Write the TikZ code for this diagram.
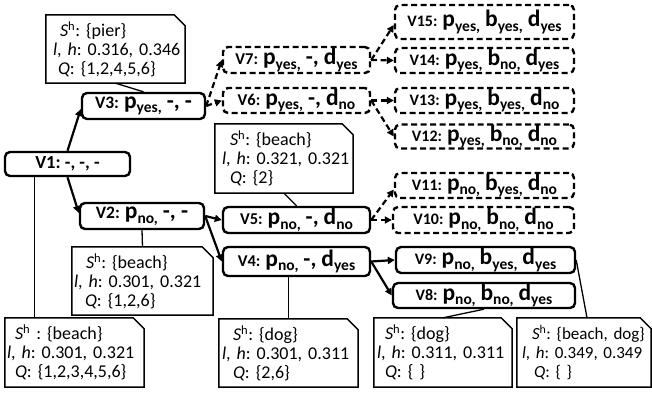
\documentclass[tikz,border=0pt]{standalone}
\usepackage{fontspec}
\setmainfont{Carlito}[ItalicFont={Carlito Italic}, BoldFont={Carlito Bold}, BoldItalicFont={Carlito Bold Italic}]
\usetikzlibrary{arrows.meta}
\frenchspacing
\newcommand\Vpre[2][16]{{\fontsize{#1}{16}\selectfont #2}}
\newcommand\Vmain[2]{{\fontsize{23.5}{22}\selectfont #1}\raisebox{-4.5pt}{\fontsize{15.5}{16}\selectfont #2}}
\newcommand\Vdsh[1]{{\fontsize{23}{20}\selectfont #1}}
\newcommand\Sh{\textit{S}\textsuperscript{h}}
\newcommand\Calltext[6]{\mbox{\hspace*{#1}\Sh: #2}\\\mbox{\hspace*{#3}\textit{l}, \textit{h}: #4}\\\mbox{\hspace*{#5}\textit{Q}: #6}}
\newcommand\Cutbox[1]{\draw[cbox] (#1.north west) -- ([xshift=-11pt]#1.north east) -- ([yshift=-11pt]#1.north east) -- (#1.south east) -- (#1.south west) -- cycle;}
\tikzset{
  sbox/.style={draw, rounded corners=5pt, line width=2.4pt, inner sep=0pt, font=\bfseries\fontsize{22}{22}\selectfont\frenchspacing},
  dbox/.style={sbox, dash pattern=on 6pt off 3.5pt},
  callout/.style={inner xsep=2pt, inner ysep=0pt, align=left, font=\fontsize{18}{19}\selectfont\frenchspacing},
  cbox/.style={line width=1.5pt, line join=miter},
  cline/.style={line width=1.3pt},
  arr/.style={line width=2.2pt, -{Triangle[length=7pt,width=7pt]}},
  darr/.style={arr, dash pattern=on 6pt off 3.5pt},
}
\begin{document}
\begin{tikzpicture}[x=1pt,y=-1pt]
\useasboundingbox (0,0) rectangle (652,393);
% tree nodes
\node[sbox, minimum width=125pt, minimum height=24pt] (v1) at (67.5,164) {{\fontsize{18.5}{19}\selectfont V1: -, -, -}};
\node[sbox, minimum width=123pt, minimum height=26pt] (v3) at (143.5,106) {\Vpre[17.5]{V3:} \Vmain{p}{yes,} \Vdsh{-, -}};
\node[sbox, minimum width=124pt, minimum height=26pt] (v2) at (142,216) {\Vpre[17.5]{V2:} \Vmain{p}{no,} \Vdsh{-, -}};
\node[dbox, minimum width=147pt, minimum height=26pt] (v7) at (296.5,60) {\Vpre[16.5]{V7:} \Vmain{p}{yes,} \Vdsh{-,} \Vmain{d}{yes}};
\node[dbox, minimum width=147pt, minimum height=25pt] (v6) at (296.5,100.5) {\Vpre[16.5]{V6:} \Vmain{p}{yes,} \Vdsh{-,} \Vmain{d}{no}};
\node[sbox, minimum width=147pt, minimum height=26pt] (v5) at (296.5,220) {\Vpre[16.5]{V5:} \Vmain{p}{no,} \Vdsh{-,} \Vmain{d}{no}};
\node[sbox, minimum width=147pt, minimum height=29pt] (v4) at (296.5,261.5) {\Vpre[16.5]{V4:} \Vmain{p}{no,} \Vdsh{-,} \Vmain{d}{yes}};
\node[dbox, minimum width=179pt, minimum height=34pt] (v15) at (484.5,22) {\Vpre{V15:} \Vmain{p}{yes,} \Vmain{b}{yes,} \Vmain{d}{yes}};
\node[dbox, minimum width=179pt, minimum height=25pt] (v14) at (484.5,60.5) {\Vpre{V14:} \Vmain{p}{yes,} \Vmain{b}{no,} \Vmain{d}{yes}};
\node[dbox, minimum width=179pt, minimum height=25pt] (v13) at (484.5,100.5) {\Vpre{V13:} \Vmain{p}{yes,} \Vmain{b}{yes,} \Vmain{d}{no}};
\node[dbox, minimum width=179pt, minimum height=24pt] (v12) at (484.5,136.5) {\Vpre{V12:} \Vmain{p}{yes,} \Vmain{b}{no,} \Vmain{d}{no}};
\node[dbox, minimum width=179pt, minimum height=25pt] (v11) at (484.5,185.5) {\Vpre{V11:} \Vmain{p}{no,} \Vmain{b}{yes,} \Vmain{d}{no}};
\node[dbox, minimum width=181pt, minimum height=26pt] (v10) at (483.5,220) {\Vpre{V10:} \Vmain{p}{no,} \Vmain{b}{no,} \Vmain{d}{no}};
\node[sbox, minimum width=179pt, minimum height=26pt] (v9) at (485.5,260) {\Vpre{V9:} \Vmain{p}{no,} \Vmain{b}{yes,} \Vmain{d}{yes}};
\node[sbox, minimum width=182pt, minimum height=25pt] (v8) at (484,295.5) {\Vpre{V8:} \Vmain{p}{no,} \Vmain{b}{no,} \Vmain{d}{yes}};
% callouts
\node[callout, minimum width=139pt, minimum height=68pt, text width=135pt] (c3) at (115.5,49) {\Calltext{12pt}{\{pier\}}{5pt}{0.316, 0.346}{10pt}{\{1,2,4,5,6\}}};
\node[callout, minimum width=138pt, minimum height=69pt, text width=134pt] (c5) at (284,158.5) {\Calltext{13pt}{\{beach\}}{5pt}{0.321, 0.321}{13pt}{\{2\}}};
\node[callout, minimum width=141pt, minimum height=68pt, text width=137pt] (c2) at (142.5,281) {\Calltext{12pt}{\{beach\}}{0pt}{0.301, 0.321}{11pt}{\{1,2,6\}}};
\node[callout, minimum width=139pt, minimum height=69pt, text width=135pt] (c1) at (74.5,352.5) {\mbox{\hspace*{8pt}\Sh\ : \{beach\}}\\\mbox{\textit{l}, \textit{h}: 0.301, 0.321}\\\mbox{\hspace*{8pt}\textit{Q}: \{1,2,3,4,5,6\}}};
\node[callout, minimum width=139pt, minimum height=68pt, text width=135pt] (c4) at (288.5,353) {\Calltext{12pt}{\{dog\}}{1pt}{0.301, 0.311}{12pt}{\{2,6\}}};
\node[callout, minimum width=138pt, minimum height=69pt, text width=134pt] (c8) at (443,352.5) {\Calltext{9pt}{\{dog\}}{1pt}{0.311, 0.311}{9pt}{\{ \}}};
\node[callout, font=\fontsize{17}{19}\selectfont\frenchspacing, minimum width=134pt, minimum height=69pt, text width=130pt] (c9) at (584,352.5) {\Calltext{13pt}{\{beach, dog\}}{3pt}{0.349, 0.349}{15pt}{\{ \}}};
\Cutbox{c3}\Cutbox{c5}\Cutbox{c2}\Cutbox{c1}\Cutbox{c4}\Cutbox{c8}\Cutbox{c9}
% callout connectors
\draw[cline] (c3.south) -- (v3.north);
\draw[cline] (c5.south) -- (v5.north);
\draw[cline] (v2.south) -- (c2.north);
\draw[cline] ([xshift=31pt]v1.south west) -- ([xshift=31pt]v1.south west |- c1.north);
\draw[cline] (c4.north |- v4.south) -- (c4.north);
\draw[cline] (v8.south) -- (c8.north);
\draw[cline] (v9.east) -- ([xshift=3pt]c9.north);
% arrows
\draw[arr] (v1.north) -- ([yshift=-3pt]v3.west);
\draw[arr] (v1.south) -- ([yshift=3pt]v2.west);
\draw[darr] (v3.east) -- (v7.west);
\draw[darr] (v3.east) -- (v6.west);
\draw[arr] (v2.east) -- (v5.west);
\draw[arr] (v2.east) -- (v4.west);
\draw[darr] (v7.east) -- ([yshift=-3pt]v15.west);
\draw[darr] (v7.east) -- (v14.west);
\draw[darr] (v6.east) -- (v13.west);
\draw[darr] (v6.east) -- (v12.west);
\draw[darr] (v5.east) -- ([yshift=-4pt]v11.west);
\draw[darr] (v5.east) -- (v10.west);
\draw[arr] (v4.east) -- (v9.west);
\draw[arr] (v4.east) -- (v8.west);
\end{tikzpicture}
\end{document}
